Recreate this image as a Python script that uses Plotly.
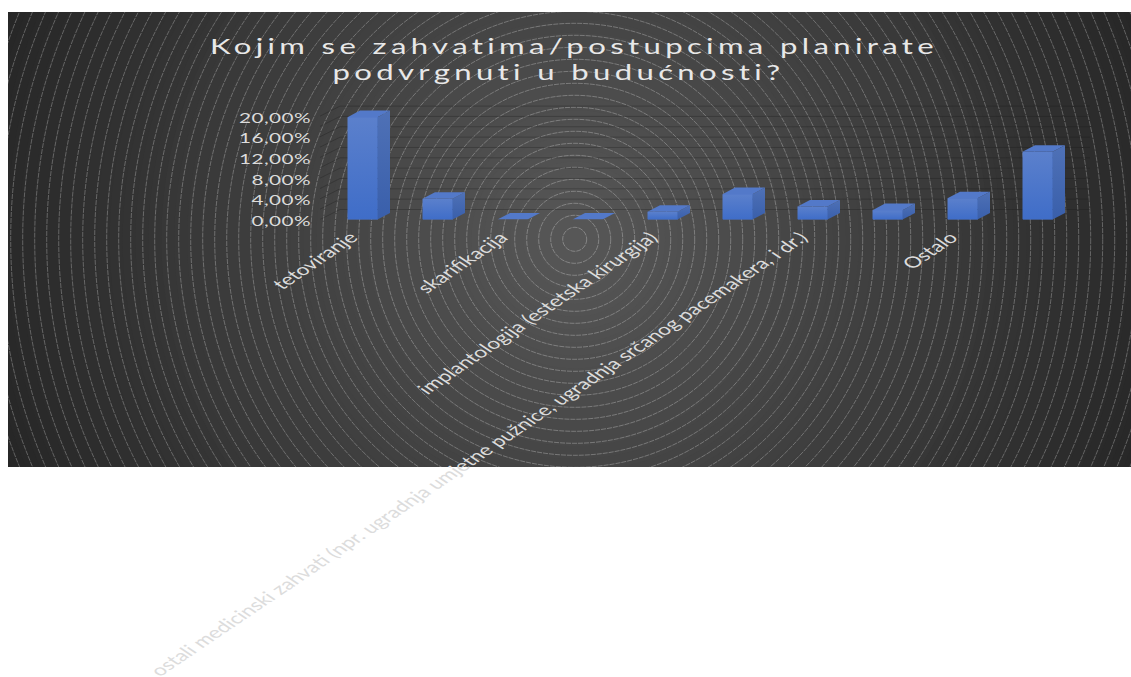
import plotly.graph_objects as go

# ---- data ----
categories = ["tetoviranje", "", "skarifikacija", "",
              "implantologija (estetska kirurgija)", "",
              "ostali medicinski zahvati (npr. ugradnja umjetne pužnice, ugradnja srčanog pacemakera, i dr.)", "",
              "Ostalo", ""]
values = [19.8, 4.0, 0.0, 0.0, 1.5, 4.9, 2.5, 1.8, 4.1, 13.1]
y_ticks = [0, 4, 8, 12, 16, 20]
y_tick_labels = ["0,00%", "4,00%", "8,00%", "12,00%", "16,00%", "20,00%"]
grid_levels = [0, 2, 4, 6, 8, 10, 12, 14, 16, 18, 20]
title_text = "Kojim se zahvatima/postupcima planirate<br>podvrgnuti u budućnosti?"

# ---- style / geometry ----
W, H = 1131, 677
RECT = (8, 12, 1131, 467)
CENTER = (574.7, 239.3)
PX_PER_CAT, PX_PER_PCT = 75.0, 5.17
X0_PX, Y0_PX = 287.5, 219.5      # pixel of category position 0 and of value 0
BAR_W = 30 / PX_PER_CAT
DX, DY = 12.5 / PX_PER_CAT, 6.6 / PX_PER_PCT
WALL_DX, WALL_DY = 20 / PX_PER_CAT, 10 / PX_PER_PCT
DOM_L, DOM_R, DOM_T = 312.0, 1100.0, 100.0

positions = list(range(1, len(values) + 1))

fig = go.Figure()

# background subplot (pixel-scaled, holds gradient and rings as clipped shapes)
fig.add_trace(go.Scatter(x=[None], y=[None], xaxis="x", yaxis="y", showlegend=False, hoverinfo="skip"))
shapes = []
N_STEPS = 48
R_MAX = 620.0
for k in range(N_STEPS, 0, -1):
    r = R_MAX * k / N_STEPS
    g = int(round(0x58 - (0x58 - 0x25) * (k - 0.5) / N_STEPS))
    shapes.append(dict(type="circle", xref="x", yref="y", layer="below",
                       x0=CENTER[0] - r, x1=CENTER[0] + r, y0=CENTER[1] - r, y1=CENTER[1] + r,
                       fillcolor=f"rgb({g},{g},{g})", line=dict(width=0)))
r = 12.0
while r < R_MAX:
    shapes.append(dict(type="circle", xref="x", yref="y", layer="below",
                       x0=CENTER[0] - r, x1=CENTER[0] + r, y0=CENTER[1] - r, y1=CENTER[1] + r,
                       fillcolor="rgba(0,0,0,0)",
                       line=dict(color="rgba(255,255,255,0.3)", width=0.9, dash="5px,1px")))
    r += 12.0

# back wall gridlines
gx, gy = [], []
left = (320 - X0_PX) / PX_PER_CAT
right = (1090 - X0_PX) / PX_PER_CAT
for v in grid_levels:
    gx += [left, left + WALL_DX, right, None]
    gy += [v, v + WALL_DY, v + WALL_DY, None]
fig.add_trace(go.Scatter(x=gx, y=gy, mode="lines", xaxis="x2", yaxis="y2", showlegend=False,
                         hoverinfo="skip", cliponaxis=False,
                         line=dict(color="rgba(25,25,25,0.3)", width=1)))

# front faces
fig.add_trace(go.Bar(x=positions, y=values, width=BAR_W, xaxis="x2", yaxis="y2", showlegend=False,
                     marker=dict(color="#4a74c9", line=dict(width=0)), cliponaxis=False))

# gradient overlays, sides and tops
for p, v in zip(positions, values):
    l, r_ = p - BAR_W / 2, p + BAR_W / 2
    if v > 0:
        fig.add_trace(go.Scatter(x=[l, r_, r_, l, l], y=[0, 0, v, v, 0], mode="lines", fill="toself",
                                 xaxis="x2", yaxis="y2", showlegend=False, hoverinfo="skip", cliponaxis=False,
                                 line=dict(width=0),
                                 fillgradient=dict(type="vertical",
                                                   colorscale=[[0, "#3f6dc8"], [1, "#5b80cc"]])))
        fig.add_trace(go.Scatter(x=[r_, r_ + DX, r_ + DX, r_, r_], y=[0, DY, v + DY, v, 0], mode="lines",
                                 fill="toself", xaxis="x2", yaxis="y2", showlegend=False, hoverinfo="skip",
                                 cliponaxis=False, line=dict(width=0),
                                 fillgradient=dict(type="vertical",
                                                   colorscale=[[0, "#395fab"], [1, "#4f71b6"]])))
    fig.add_trace(go.Scatter(x=[l, r_, r_ + DX, l + DX, l], y=[v, v, v + DY, v + DY, v], mode="lines",
                             fill="toself", fillcolor="#5379c9", xaxis="x2", yaxis="y2", showlegend=False,
                             hoverinfo="skip", cliponaxis=False, line=dict(width=0)))

tick_pos = [p for p, c in zip(positions, categories) if c]
tick_txt = [c for c in categories if c]

fig.update_layout(
    width=W, height=H, autosize=False,
    margin=dict(l=0, r=0, t=0, b=0),
    paper_bgcolor="white", plot_bgcolor="rgba(0,0,0,0)",
    shapes=shapes, bargap=0,
    title=dict(text=title_text, x=574 / W, xanchor="center", y=1 - 54 / H, yanchor="top",
               font=dict(family="Lato", size=21, color="#e8e8e8")),
    xaxis=dict(domain=[RECT[0] / W, 1], range=[RECT[0], RECT[2]], visible=False, fixedrange=True),
    yaxis=dict(domain=[1 - RECT[3] / H, 1 - RECT[1] / H], range=[RECT[3], RECT[1]], visible=False, fixedrange=True),
    xaxis2=dict(domain=[DOM_L / W, DOM_R / W],
                range=[(DOM_L - X0_PX) / PX_PER_CAT, (DOM_R - X0_PX) / PX_PER_CAT],
                anchor="y2", tickmode="array", tickvals=tick_pos, ticktext=tick_txt, tickangle=-45,
                showgrid=False, zeroline=False, showline=False, ticks="", automargin=False,
                tickfont=dict(family="Lato", size=15.5, color="#dcdcdc"), fixedrange=True),
    yaxis2=dict(domain=[1 - Y0_PX / H, 1 - DOM_T / H],
                range=[0, (Y0_PX - DOM_T) / PX_PER_PCT],
                anchor="x2", tickmode="array", tickvals=y_ticks, ticktext=y_tick_labels,
                showgrid=False, zeroline=False, showline=False, ticks="", automargin=False,
                tickfont=dict(family="Lato", size=14, color="#dcdcdc"), fixedrange=True),
)

post = """
document.body.style.margin='0';
document.documentElement.style.overflow='hidden';
function stretch(e,k,dx,dy){
  var x=parseFloat(e.getAttribute('x'))||0, y=parseFloat(e.getAttribute('y'))||0;
  var old=e.getAttribute('transform')||'';
  var m=e.transform.baseVal.consolidate();
  var px=x, py=y;
  if(m){px=m.matrix.a*x+m.matrix.c*y+m.matrix.e; py=m.matrix.b*x+m.matrix.d*y+m.matrix.f;}
  e.setAttribute('transform','translate('+(px+dx)+','+(py+dy)+') scale('+k+',1) translate('+(-px)+','+(-py)+') '+old);
}
document.querySelectorAll('.gtitle').forEach(function(e){
  e.style.letterSpacing='2.95px';
  var t=e.querySelectorAll('tspan.line');
  if(t.length>1){
    t[1].setAttribute('dy','26px');
    t[1].setAttribute('x',(parseFloat(t[1].getAttribute('x'))||0)-10.5);
  }
  stretch(e,1.48,0,0);
});
document.querySelectorAll('.y2tick text').forEach(function(e){e.style.letterSpacing='0.3px';stretch(e,1.48,0,1.5);});
document.querySelectorAll('.x2tick text').forEach(function(e){stretch(e,1.48,-9,5);});
"""
fig.write_html("out.html", post_script=post, config={"displayModeBar": False})
